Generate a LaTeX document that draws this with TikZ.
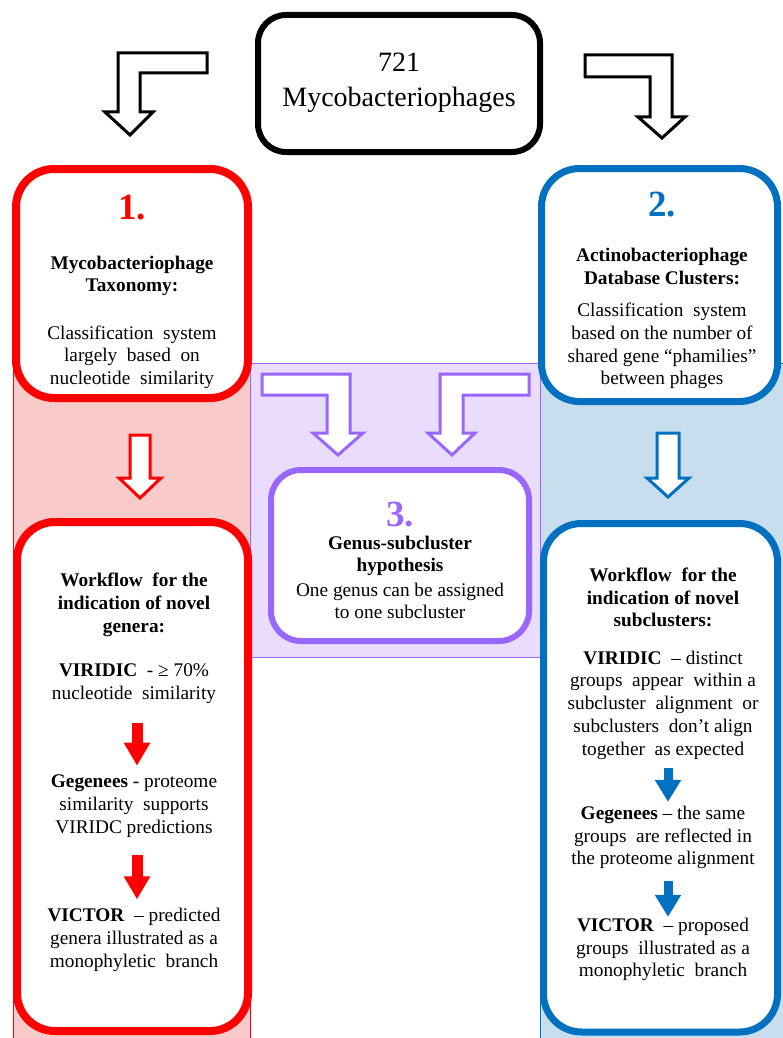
\documentclass[tikz,border=0pt]{standalone}
\usepackage{fontspec}
\setmainfont{Liberation Serif}
\usetikzlibrary{arrows.meta}
\definecolor{cred}{HTML}{FF0000}
\definecolor{credbg}{HTML}{F9CACA}
\definecolor{cpur}{HTML}{9966FF}
\definecolor{cpurbg}{HTML}{E9DCFC}
\definecolor{cblue}{HTML}{0070C0}
\definecolor{cbluebg}{HTML}{C8DEEF}
\tikzset{
  panel/.style={draw, fill=white, inner sep=0pt, outer sep=0pt},
  txt/.style={align=center, inner sep=0pt, font=\fontsize{19.3}{22.7}\selectfont},
  bold/.style={align=center, inner sep=0pt, font=\fontsize{19.3}{22.7}\selectfont\bfseries},
  numlbl/.style={inner sep=0pt, font=\fontsize{37}{40}\selectfont\bfseries},
  hollow/.style={fill=white, line width=3pt, line join=miter},
  redflow/.style={cred, line width=11pt, -{Triangle[width=25pt,length=23pt]}},
  blueflow/.style={cblue, line width=9pt, -{Triangle[width=25pt,length=22pt]}},
}
\begin{document}
\begin{tikzpicture}[x=1pt,y=-1pt]
\useasboundingbox (0,0) rectangle (782,1038);
% background panels
\draw[cred, line width=1pt, fill=credbg] (13,363) rectangle (250,1040);
\draw[cblue, line width=1pt, fill=cbluebg] (540,363) rectangle (783,1040);
\draw[cpur, line width=1pt, fill=cpurbg] (250,363) rectangle (540,657);

% top box
\node[panel, line width=6pt, rounded corners=28pt, minimum width=282pt, minimum height=137pt] (top) at (399,83.5) {};
\node[align=center, inner sep=0pt, font=\fontsize{28}{35}\selectfont] (toptxt) at (399,83) {721\\Mycobacteriophages};

% bent black arrows
\draw[hollow, draw=black] (207,53) -- (118,53) -- (118,112) -- (105,112) -- (130,135) -- (153,112) -- (140,112) -- (140,73) -- (207,73) -- cycle;
\draw[hollow, draw=black] (585,55) -- (672,55) -- (672,117) -- (685,117) -- (662,138) -- (638,117) -- (650,117) -- (650,77) -- (585,77) -- cycle;

% box 1
\node[panel, draw=cred, line width=8pt, rounded corners=38pt, minimum width=232pt, minimum height=229pt] (box1) at (132,283.5) {};
\node[numlbl, text=cred] (n1) at (132,208) {1.};
\node[bold] (h1) at (132,276) {Mycobacteriophage\\Taxonomy:};
\node[txt] (b1) at (132,357) {Classification\ \ system\\largely\ \ based\ \ on\\nucleotide\ \ similarity};

% box 2
\node[panel, draw=cblue, line width=7pt, rounded corners=38pt, minimum width=236pt, minimum height=233pt] (box2) at (659.5,285) {};
\node[numlbl, text=cblue] (n2) at (662,205) {2.};
\node[bold] (h2) at (662,266.5) {Actinobacteriophage\\Database Clusters:};
\node[txt] (b2) at (662,346) {Classification\ \ system\\based on the number of\\shared gene ``phamilies''\\between phages};

% purple bent arrows
\draw[hollow, draw=cpur] (262,374) -- (350,374) -- (350,433) -- (363,433) -- (338,455) -- (313,433) -- (327,433) -- (327,395) -- (262,395) -- cycle;
\draw[hollow, draw=cpur] (529,374) -- (440,374) -- (440,433) -- (428,433) -- (452,455) -- (475,433) -- (463,433) -- (463,395) -- (529,395) -- cycle;

% hollow straight arrows
\draw[hollow, draw=cred] (130,435) -- (150,435) -- (150,478) -- (161,478) -- (140,498) -- (119,478) -- (130,478) -- cycle;
\draw[hollow, draw=cblue] (657,433) -- (679,433) -- (679,478) -- (689,478) -- (668,497) -- (647,478) -- (657,478) -- cycle;

% box 3
\node[panel, draw=cpur, line width=6pt, rounded corners=30pt, minimum width=258pt, minimum height=171pt] (box3) at (400,555.5) {};
\node[numlbl, text=cpur] (n3) at (400,515) {3.};
\node[bold] (h3) at (400,556) {Genus-subcluster\\hypothesis};
\node[txt] (b3) at (400,601) {One genus can be assigned\\to one subcluster};

% box 4 red
\node[panel, draw=cred, line width=8pt, rounded corners=38pt, minimum width=231pt, minimum height=509pt] (box4) at (132.5,776.5) {};
\node[bold] (h4) at (134,605) {Workflow\ \ for the\\indication of novel\\genera:};
\node[txt] (vir4) at (134,683.5) {\textbf{VIRIDIC}\ \ - ≥ 70\%\\nucleotide\ \ similarity};
\node[txt] (geg4) at (134,806) {\textbf{Gegenees} - proteome\\similarity\ \ supports\\VIRIDC predictions};
\node[txt] (vic4) at (134,940) {\textbf{VICTOR}\ \ -- predicted\\genera illustrated as a\\monophyletic\ \ branch};
\draw[redflow] ([xshift=3pt,yshift=-19pt]vir4.south) -- ([xshift=3pt,yshift=9pt]geg4.north);
\draw[redflow] ([xshift=3pt,yshift=-18pt]geg4.south) -- ([xshift=3pt,yshift=9pt]vic4.north);

% box 5 blue
\node[panel, draw=cblue, line width=7pt, rounded corners=38pt, minimum width=234pt, minimum height=508.5pt] (box5) at (660.5,777.75) {};
\node[bold] (h5) at (663,597.5) {Workflow\ \ for the\\indication of novel\\subclusters:};
\node[txt] (vir5) at (663,705) {\textbf{VIRIDIC}\ \ -- distinct\\groups\ \ appear\ \ within a\\subcluster\ \ alignment\ \ or\\subclusters\ \ don't align\\together\ \ as expected};
\node[txt] (geg5) at (663,837.5) {\textbf{Gegenees} -- the same\\groups\ \ are reflected in\\the proteome alignment};
\node[txt] (vic5) at (663,949.5) {\textbf{VICTOR}\ \ -- proposed\\groups\ \ illustrated as a\\monophyletic\ \ branch};
\draw[blueflow] ([xshift=5pt,yshift=-9pt]vir5.south) -- ([xshift=5pt,yshift=4pt]geg5.north);
\draw[blueflow] ([xshift=5pt,yshift=-12pt]geg5.south) -- ([xshift=5pt,yshift=1pt]vic5.north);
\end{tikzpicture}
\end{document}
